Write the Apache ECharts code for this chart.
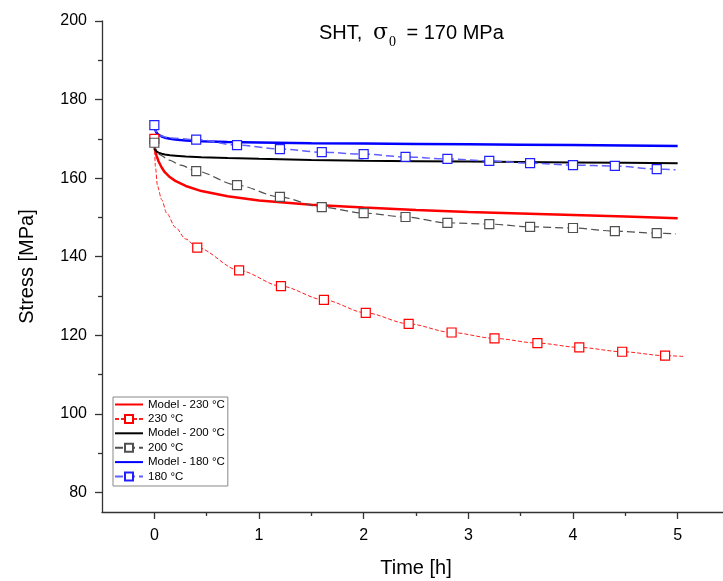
<!DOCTYPE html>
<html><head><meta charset="utf-8">
<script src="https://cdn.jsdelivr.net/npm/echarts@6/dist/echarts.min.js"></script>
<style>html,body{margin:0;padding:0;background:#fff}#c{width:723px;height:581px}</style>
</head><body><div id="c"></div>
<script>
// ---- data ----
const seriesNames = ['Model - 230 °C', '230 °C', 'Model - 200 °C', '200 °C', 'Model - 180 °C', '180 °C'];

const modelTime = [0, 0.01, 0.02, 0.04, 0.07, 0.1, 0.15, 0.2, 0.3, 0.45, 0.7, 1.0, 1.5, 2.0, 2.5, 3.0, 3.5, 4.0, 4.5, 5.0];
const model230 = [168, 166.8, 165.8, 164.3, 162.7, 161.5, 160.2, 159.3, 158.0, 156.7, 155.4, 154.3, 153.2, 152.5, 151.9, 151.4, 151.0, 150.6, 150.2, 149.8];
const model200 = [167.5, 167.1, 166.8, 166.5, 166.2, 166.0, 165.8, 165.7, 165.5, 165.3, 165.1, 164.9, 164.6, 164.4, 164.3, 164.2, 164.1, 164.0, 163.9, 163.8];
const model180 = [173, 172.2, 171.6, 171.0, 170.6, 170.3, 170.0, 169.8, 169.6, 169.4, 169.2, 169.1, 168.9, 168.8, 168.7, 168.6, 168.5, 168.4, 168.3, 168.2];

const expTime230 = [0, 0.01, 0.03, 0.07, 0.12, 0.2, 0.3, 0.41, 0.81, 1.21, 1.62, 2.02, 2.43, 2.84, 3.25, 3.66, 4.06, 4.47, 4.88, 5.06];
const exp230 = [170, 163, 158, 154.5, 151, 147.5, 144.5, 142.3, 136.5, 132.5, 129.0, 125.7, 122.9, 120.7, 119.2, 118.0, 116.9, 115.8, 114.8, 114.6];
const markers230 = [0, 7, 8, 9, 10, 11, 12, 13, 14, 15, 16, 17, 18];

const expTime200 = [0, 0.01, 0.05, 0.14, 0.25, 0.40, 0.79, 1.20, 1.60, 2.0, 2.40, 2.80, 3.20, 3.59, 4.0, 4.40, 4.80, 4.98];
const exp200 = [169, 167.5, 166, 164.6, 163.3, 161.8, 158.2, 155.2, 152.6, 151.1, 150.1, 148.6, 148.3, 147.6, 147.3, 146.5, 146.0, 145.8];
const markers200 = [0, 5, 6, 7, 8, 9, 10, 11, 12, 13, 14, 15, 16];

const expTime180 = [0, 0.01, 0.05, 0.15, 0.40, 0.79, 1.20, 1.60, 2.0, 2.40, 2.80, 3.20, 3.59, 4.0, 4.40, 4.80, 4.98];
const exp180 = [173.5, 172, 170.8, 170.2, 169.8, 168.4, 167.4, 166.6, 166.1, 165.4, 164.9, 164.4, 163.8, 163.3, 163.1, 162.3, 162.1];
const markers180 = [0, 4, 5, 6, 7, 8, 9, 10, 11, 12, 13, 14, 15];

const xTickLabels = [0, 1, 2, 3, 4, 5];
const xMinorTicks = [0.5, 1.5, 2.5, 3.5, 4.5];
const yTickLabels = [80, 100, 120, 140, 160, 180, 200];
const yMinorTicks = [90, 110, 130, 150, 170, 190];

// ---- helpers ----
function pairs(t, v) { return t.map((x, i) => [x, v[i]]); }
function expData(t, v, m) {
  return t.map((x, i) => m.indexOf(i) >= 0 ? { value: [x, v[i]] } : { value: [x, v[i]], symbol: 'none' });
}
const FONT = 'Liberation Sans, Arial, sans-serif';
const axisCol = '#333';

function modelSeries(name, data, color, width) {
  return { name, type: 'line', data, symbol: 'none', smooth: false,
    color, lineStyle: { color, width } };
}
function expSeries(name, data, lineColor, markColor, dash, width) {
  return { name, type: 'line', data, symbol: 'rect', symbolSize: 9, showAllSymbol: true,
    smooth: 0.3, smoothMonotone: 'x', color: lineColor,
    lineStyle: { color: lineColor, width, type: dash },
    itemStyle: { color: '#fff', borderColor: markColor, borderWidth: 1.2 } };
}
const legendData = seriesNames.map((n, i) => i % 2 === 0 ? { name: n, itemStyle: { opacity: 0 } } : { name: n });

const chart = echarts.init(document.getElementById('c'), null, { renderer: 'canvas' });
chart.setOption({
  animation: false,
  backgroundColor: '#fff',
  title: {
    left: 319, top: 23, padding: 0,
    text: '{a|SHT, }{g|σ}{s|0}{a| = 170 MPa}',
    textStyle: {
      fontWeight: 'normal',
      rich: {
        a: { fontSize: 20, fontFamily: FONT, fontWeight: 'normal', color: '#000', lineHeight: 24, verticalAlign: 'top' },
        g: { fontSize: 22, fontFamily: 'DejaVu Serif, serif', fontWeight: 'normal', color: '#000', lineHeight: 24, verticalAlign: 'top', padding: [-1, 1, 0, 5] },
        s: { fontSize: 14, fontFamily: 'Liberation Serif, serif', fontWeight: 'normal', color: '#000', lineHeight: 14, padding: [12, 5, 0, 0], verticalAlign: 'top' }
      }
    }
  },
  legend: {
    orient: 'vertical', left: 113, top: 397,
    itemWidth: 28, itemHeight: 10, itemGap: 1.4,
    padding: [1, 3, 3, 1],
    borderColor: '#888', borderWidth: 1, backgroundColor: '#fff',
    textStyle: { fontSize: 11.5, fontFamily: FONT, color: '#000', lineHeight: 13 },
    data: legendData
  },
  grid: { left: 102, right: -7, top: 21, bottom: 69, containLabel: false, outerBoundsMode: 'none' },
  xAxis: [{
    type: 'value', min: -0.5, max: 5.5,
    axisLine: { show: true, onZero: false, lineStyle: { color: axisCol, width: 1.3 } },
    axisTick: { show: true, customValues: xTickLabels, length: 7, lineStyle: { color: axisCol, width: 1.3 } },
    axisLabel: { customValues: xTickLabels, fontSize: 16, fontFamily: FONT, color: '#000', margin: 16 },
    splitLine: { show: false },
    name: 'Time [h]', nameLocation: 'middle', nameGap: 46,
    nameTextStyle: { fontSize: 20, fontFamily: FONT, color: '#000' }
  }, {
    type: 'value', min: -0.5, max: 5.5, position: 'bottom',
    axisLine: { show: false, onZero: false },
    axisTick: { show: true, customValues: xMinorTicks, length: 4, lineStyle: { color: axisCol, width: 1.3 } },
    axisLabel: { show: false }, splitLine: { show: false }
  }],
  yAxis: [{
    type: 'value', min: 75, max: 200,
    axisLine: { show: true, onZero: false, lineStyle: { color: axisCol, width: 1.3 } },
    axisTick: { show: true, customValues: yTickLabels, length: 7, lineStyle: { color: axisCol, width: 1.3 } },
    axisLabel: { customValues: yTickLabels, fontSize: 16, fontFamily: FONT, color: '#000', margin: 15 },
    splitLine: { show: false },
    name: 'Stress [MPa]', nameLocation: 'middle', nameGap: 65,
    nameTextStyle: { fontSize: 20, fontFamily: FONT, color: '#000' }
  }, {
    type: 'value', min: 75, max: 200, position: 'left',
    axisLine: { show: false, onZero: false },
    axisTick: { show: true, customValues: yMinorTicks, length: 4, lineStyle: { color: axisCol, width: 1.3 } },
    axisLabel: { show: false }, splitLine: { show: false }
  }],
  series: [
    modelSeries(seriesNames[0], pairs(modelTime, model230), '#ff0000', 2.5),
    expSeries(seriesNames[1], expData(expTime230, exp230, markers230), '#ff2020', '#ff0000', [4, 2], 1),
    modelSeries(seriesNames[2], pairs(modelTime, model200), '#000000', 2),
    expSeries(seriesNames[3], expData(expTime200, exp200, markers200), '#505050', '#505050', [8, 4], 1.2),
    modelSeries(seriesNames[4], pairs(modelTime, model180), '#0000ff', 2.5),
    expSeries(seriesNames[5], expData(expTime180, exp180, markers180), '#6060ff', '#2020ff', [8, 4], 1.5)
  ]
});
</script></body></html>
